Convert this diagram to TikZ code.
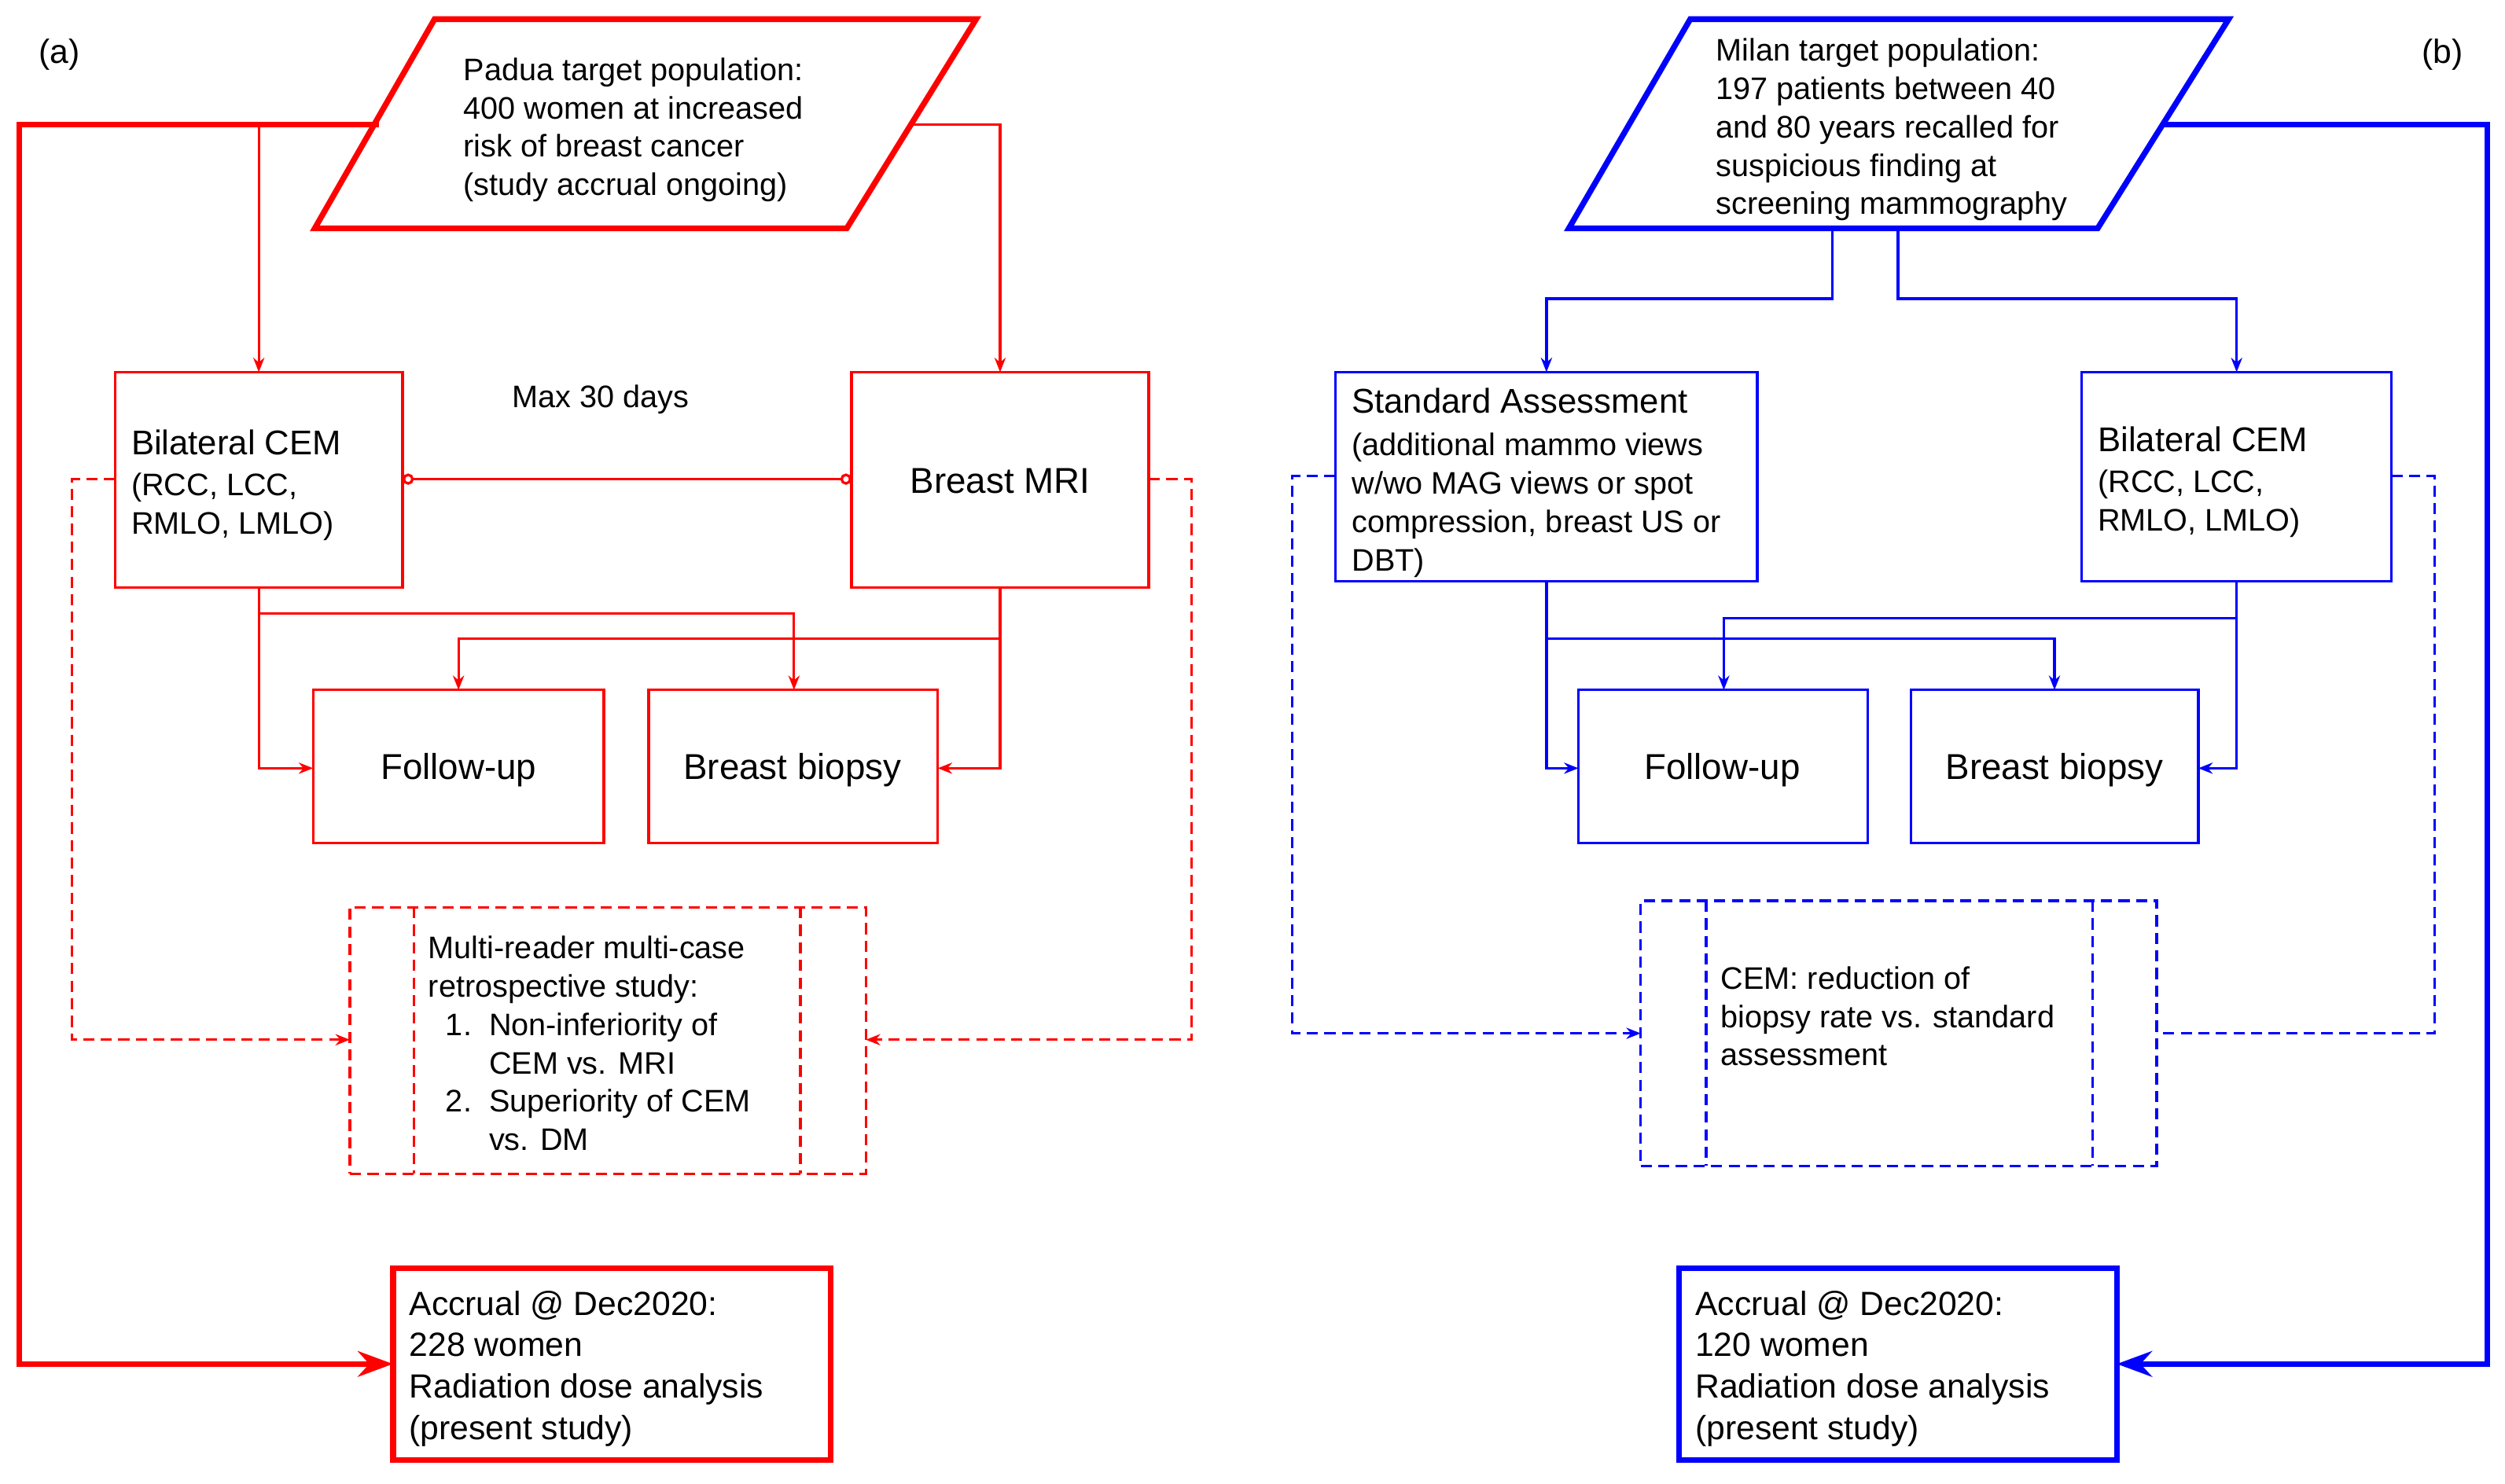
\documentclass[tikz,border=0pt]{standalone}
\usepackage{fontspec}
\setmainfont{Liberation Sans}
\usetikzlibrary{arrows.meta}
\definecolor{rr}{RGB}{255,0,0}
\definecolor{bb}{RGB}{0,0,255}
\begin{document}
\begin{tikzpicture}[x=1pt,y=-1pt,
  thin line/.style={line width=1.6pt},
  thick line/.style={line width=3.6pt},
  arr/.style={-{Stealth[length=9pt,width=7pt]}},
  bigarr/.style={-{Stealth[length=22pt,width=16pt]}},
  dsh/.style={dash pattern=on 7pt off 4pt},
  box/.style={draw,line width=1.6pt,inner sep=0pt,outer sep=0pt,anchor=north west},
  txt/.style={text=black,inner sep=0pt,anchor=north west,align=left,font=\fontsize{19.5}{24}\selectfont},
  lbl/.style={text=black,inner sep=0pt,font=\fontsize{22.5}{26}\selectfont}
]
\useasboundingbox (0,0) rectangle (1568,929);
\node[inner sep=0pt,font=\fontsize{21}{24}\selectfont] (la) at (37,34) {(a)};
\node[inner sep=0pt,font=\fontsize{21}{24}\selectfont] (lb) at (1529,34) {(b)};

%%%%%% LEFT (red)
\begin{scope}[color=rr]
\draw[thick line,line join=miter] (272,12) -- (611,12) -- (530,143) -- (197,143) -- cycle;
\coordinate (pL) at (237,78); \coordinate (pR) at (571,78);
\node[txt] (ptxt) at (290,36) {Padua target population:\\400 women at increased\\risk of breast cancer\\(study accrual ongoing)};
\node[box,minimum width=180pt,minimum height=135pt] (cem) at (72,233) {};
\node[txt,font=\fontsize{21.5}{24}\selectfont] (cemt) at (82,269) {Bilateral CEM};
\node[txt] (cemt2) at (82,296) {(RCC, LCC,\\RMLO, LMLO)};
\node[box,minimum width=186pt,minimum height=135pt] (mri) at (533,233) {};
\node[lbl] at (626,301) {Breast MRI};
\node[text=black,inner sep=0pt,font=\fontsize{19.5}{24}\selectfont] (max) at (376,250) {Max 30 days};
\node[box,minimum width=182pt,minimum height=96pt] (fu) at (196,432) {};
\node[lbl] at (287,482) {Follow-up};
\node[box,minimum width=181pt,minimum height=96pt] (bx) at (406,432) {};
\node[lbl] at (496,482) {Breast biopsy};
\node[box,dsh,minimum width=323pt,minimum height=167pt] (mr) at (219,568) {};
\draw[thin line,dsh] (259,568) -- (259,735) (501,568) -- (501,735);
\node[txt] (mrt) at (268,586) {Multi-reader multi-case\\retrospective study:\\\phantom{0}1.\ \ Non-inferiority of\\\phantom{0}\phantom{1.\ \ }CEM vs. MRI\\\phantom{0}2.\ \ Superiority of CEM\\\phantom{0}\phantom{2.\ \ }vs. DM};
\node[box,line width=3.6pt,minimum width=274pt,minimum height=120pt] (acc) at (246,794) {};
\node[txt,font=\fontsize{21}{26}\selectfont] (acct) at (256,808) {Accrual @ Dec2020:\\228 women\\Radiation dose analysis\\(present study)};
\draw[thick line,bigarr] (pL) -- (12,78) -- (12,854) -- (acc.west|-0,854);
\draw[thin line,arr] (162,78) -- (cem.north-|162,0);
\draw[thin line,arr] (pR) -- (626,78) -- (mri.north);
\draw[thin line,{Circle[open,length=7pt]}-{Circle[open,length=7pt]}] (cem.east|-0,300) -- (mri.west|-0,300);
\draw[thin line,arr] (cem.south-|162,0) -- (162,481) -- (fu.west|-0,481);
\draw[thin line,arr] (162,384) -- (497,384) -- (bx.north-|497,0);
\draw[thin line,arr] (mri.south) -- (626,481) -- (bx.east|-0,481);
\draw[thin line,arr] (626,400) -- (287,400) -- (fu.north);
\draw[thin line,dsh,arr] (cem.west|-0,300) -- (45,300) -- (45,651) -- (mr.west|-0,651);
\draw[thin line,dsh,arr] (mri.east|-0,300) -- (746,300) -- (746,651) -- (mr.east|-0,651);
\end{scope}

%%%%%% RIGHT (blue)
\begin{scope}[color=bb]
\draw[thick line,line join=miter] (1058,12) -- (1395,12) -- (1313,143) -- (982,143) -- cycle;
\coordinate (mR) at (1355,78);
\node[txt] (mtxt) at (1074,24) {Milan target population:\\197 patients between 40\\and 80 years recalled for\\suspicious finding at\\screening mammography};
\node[box,minimum width=264pt,minimum height=131pt] (std) at (836,233) {};
\node[txt,font=\fontsize{21.5}{24}\selectfont] (stdt) at (846,243) {Standard Assessment};
\node[txt] (stdt2) at (846,271) {(additional mammo views\\w/wo MAG views or spot\\compression, breast US or\\DBT)};
\node[box,minimum width=194pt,minimum height=131pt] (cem2) at (1303,233) {};
\node[txt,font=\fontsize{21.5}{24}\selectfont] (cem2t) at (1313,267) {Bilateral CEM};
\node[txt] (cem2t2) at (1313,294) {(RCC, LCC,\\RMLO, LMLO)};
\node[box,minimum width=181pt,minimum height=96pt] (fu2) at (988,432) {};
\node[lbl] at (1078,482) {Follow-up};
\node[box,minimum width=180pt,minimum height=96pt] (bx2) at (1196,432) {};
\node[lbl] at (1286,482) {Breast biopsy};
\node[box,dsh,minimum width=323pt,minimum height=166pt] (red) at (1027,564) {};
\draw[thin line,dsh] (1068,564) -- (1068,730) (1310,564) -- (1310,730);
\node[txt] (redt) at (1077,605) {CEM: reduction of\\biopsy rate vs. standard\\assessment};
\node[box,line width=3.6pt,minimum width=274pt,minimum height=120pt] (acc2) at (1051,794) {};
\node[txt,font=\fontsize{21}{26}\selectfont] (acc2t) at (1061,808) {Accrual @ Dec2020:\\120 women\\Radiation dose analysis\\(present study)};
\draw[thick line,bigarr] (mR) -- (1557,78) -- (1557,854) -- (acc2.east|-0,854);
\draw[thin line,arr] (1147,143) -- (1147,187) -- (968,187) -- (std.north-|968,0);
\draw[thin line,arr] (1188,143) -- (1188,187) -- (1400,187) -- (cem2.north);
\draw[thin line,arr] (std.south-|968,0) -- (968,481) -- (fu2.west|-0,481);
\draw[thin line,arr] (968,400) -- (1286,400) -- (bx2.north);
\draw[thin line,arr] (cem2.south) -- (1400,481) -- (bx2.east|-0,481);
\draw[thin line,arr] (1400,387) -- (1079,387) -- (fu2.north-|1079,0);
\draw[thin line,dsh,arr] (std.west|-0,298) -- (809,298) -- (809,647) -- (red.west|-0,647);
\draw[thin line,dsh] (cem2.east|-0,298) -- (1524,298) -- (1524,647) -- (red.east|-0,647);
\end{scope}
\end{tikzpicture}
\end{document}
